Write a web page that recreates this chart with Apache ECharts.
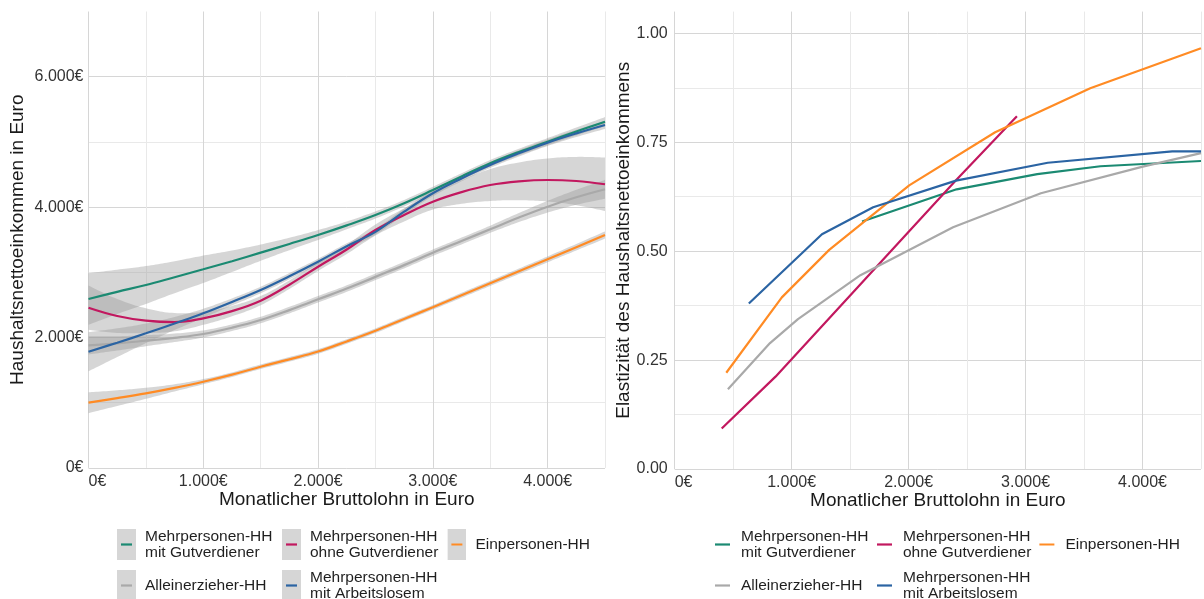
<!DOCTYPE html>
<html><head><meta charset="utf-8">
<script src="https://cdn.jsdelivr.net/npm/echarts@6/dist/echarts.min.js"></script>
<style>html,body{margin:0;padding:0;background:#fff}#c{width:1204px;height:599px}</style>
</head><body><div id="c"></div>
<script>
// ---------- data ----------
const groupNames = [
  'Mehrpersonen-HH\nmit Gutverdiener',
  'Mehrpersonen-HH\nohne Gutverdiener',
  'Einpersonen-HH',
  'Alleinerzieher-HH',
  'Mehrpersonen-HH\nmit Arbeitslosem'
];
const groupColors = ['#1b8a72', '#c2185f', '#ff8b24', '#a9a9a9', '#2b64a3'];

// left panel: smoothed household net income (Euro) by gross wage
const incomeX = [0,250,500,750,1000,1250,1500,1750,2000,2250,2500,2750,3000,3250,3500,3750,4000,4250,4500];
const netGutverdiener   = [2590,2700,2805,2925,3046,3170,3301,3435,3572,3720,3879,4060,4262,4470,4672,4845,5003,5160,5310];
const netOhneGutverd    = [2457,2330,2258,2235,2294,2405,2565,2810,3086,3350,3649,3880,4083,4230,4339,4395,4416,4400,4350];
const netEinpersonen    = [1000,1070,1144,1228,1322,1430,1552,1665,1785,1940,2104,2285,2463,2647,2831,3015,3199,3385,3572];
const netAlleinerzieher = [1880,1910,1951,1995,2054,2150,2268,2420,2586,2750,2930,3110,3300,3480,3660,3840,4006,4150,4273];
const netArbeitslosem   = [1782,1920,2064,2215,2371,2545,2729,2940,3163,3400,3620,3930,4212,4440,4646,4825,4988,5130,5259];

// confidence band half widths (Euro)
const ciGutverdiener   = [395,340,290,245,210,165,125,95,75,60,55,50,50,50,50,50,55,60,70];
const ciOhneGutverd    = [340,260,190,140,100,80,70,65,65,70,85,100,120,180,245,290,330,370,410];
const ciEinpersonen    = [160,120,85,55,40,35,35,35,35,35,35,35,35,38,40,42,45,50,55];
const ciAlleinerzieher = [140,110,85,65,55,50,50,50,50,50,50,50,50,52,55,70,90,115,145];
const ciArbeitslosem   = [300,220,150,100,70,55,50,48,45,45,45,45,45,45,45,48,50,55,60];

// right panel: elasticity of household net income, [gross wage, elasticity]
const elGutverdiener   = [[1602,0.568],[2410,0.642],[3100,0.677],[3640,0.695],[4500,0.707]];
const elOhneGutverd    = [[402,0.093],[862,0.212],[2405,0.663],[2926,0.810]];
const elEinpersonen    = [[441,0.221],[916,0.394],[1321,0.503],[2005,0.651],[2740,0.773],[3553,0.874],[4500,0.966]];
const elAlleinerzieher = [[455,0.183],[815,0.289],[1054,0.344],[1588,0.445],[2380,0.555],[3131,0.633],[4002,0.694],[4500,0.725]];
const elArbeitslosem   = [[634,0.380],[1259,0.539],[1697,0.601],[2405,0.662],[3190,0.703],[4254,0.729],[4500,0.729]];

// ---------- helpers ----------
const FONT = 'Liberation Sans, Arial, Helvetica, sans-serif';
const SMOOTH = 0.4;
const netSeries = [netGutverdiener, netOhneGutverd, netEinpersonen, netAlleinerzieher, netArbeitslosem];
const ciSeries  = [ciGutverdiener, ciOhneGutverd, ciEinpersonen, ciAlleinerzieher, ciArbeitslosem];
const elSeries  = [elGutverdiener, elOhneGutverd, elEinpersonen, elAlleinerzieher, elArbeitslosem];

function euro(v) {
  if (v === 0) return '0€';
  return Math.round(v / 1000) + '.000€';
}
function svgIcon(color, filled) {
  const svg = "<svg xmlns='http://www.w3.org/2000/svg' width='19' height='31' viewBox='0 0 19 31'>" +
    (filled ? "<rect x='0' y='0' width='19' height='31' fill='#d6d6d6'/>" : "") +
    "<line x1='" + (filled ? 4 : 2) + "' y1='15.5' x2='" + (filled ? 15 : 17) + "' y2='15.5' stroke='" + color + "' stroke-width='2.2'/></svg>";
  return 'image://data:image/svg+xml;charset=utf-8,' + encodeURIComponent(svg);
}
const MAJOR = '#d6d6d6', MINOR = '#e9e9e9';

// pixel-space bezier sampling of a polyline (same style of smoothing as the lines)
function smoothPixels(p) {
  const out = [];
  const n = p.length;
  for (let i = 0; i < n - 1; i++) {
    const p0 = p[Math.max(i - 1, 0)], p1 = p[i], p2 = p[i + 1], p3 = p[Math.min(i + 2, n - 1)];
    const c1 = [p1[0] + (p2[0] - p0[0]) * SMOOTH * 0.5, p1[1] + (p2[1] - p0[1]) * SMOOTH * 0.5];
    const c2 = [p2[0] - (p3[0] - p1[0]) * SMOOTH * 0.5, p2[1] - (p3[1] - p1[1]) * SMOOTH * 0.5];
    const steps = 12;
    for (let s = 0; s < steps; s++) {
      const t = s / steps, u = 1 - t;
      out.push([
        u*u*u*p1[0] + 3*u*u*t*c1[0] + 3*u*t*t*c2[0] + t*t*t*p2[0],
        u*u*u*p1[1] + 3*u*u*t*c1[1] + 3*u*t*t*c2[1] + t*t*t*p2[1]
      ]);
    }
  }
  out.push(p[n - 1]);
  return out;
}
function bandRenderItem(params, api) {
  if (params.dataIndexInside !== 0) return null;
  const n = params.dataInsideLength;
  const up = [], lo = [];
  for (let i = 0; i < n; i++) {
    const x = api.value(0, i);
    lo.push(api.coord([x, api.value(1, i)]));
    up.push(api.coord([x, api.value(2, i)]));
  }
  const pts = smoothPixels(up).concat(smoothPixels(lo).reverse());
  return { type: 'polygon', shape: { points: pts }, style: { fill: 'rgba(153,153,153,0.4)' }, silent: true };
}

function xAxisCfg(gridIndex) {
  return {
    type: 'value', gridIndex, min: 0, max: 4500, interval: 500,
    name: 'Monatlicher Bruttolohn in Euro', nameLocation: 'middle', nameGap: 22,
    nameMoveOverlap: false,
    nameTextStyle: { fontFamily: FONT, fontSize: 19, color: '#1a1a1a' },
    axisLine: { show: false }, axisTick: { show: false },
    axisLabel: {
      fontFamily: FONT, fontSize: 16, color: '#333333', margin: 6,
      alignMinLabel: 'left', showMaxLabel: true, hideOverlap: false,
      formatter: v => (v % 1000 === 0 ? euro(v) : '')
    },
    splitLine: { show: true, lineStyle: { color: [MAJOR, MINOR], width: 1 } }
  };
}

const series = [];
// confidence bands
netSeries.forEach((vals, g) => {
  const ci = ciSeries[g];
  series.push({
    type: 'custom', name: 'ci-' + g, xAxisIndex: 0, yAxisIndex: 0, z: 1, silent: true, clip: true,
    renderItem: bandRenderItem,
    encode: { x: 0, y: [1, 2] },
    data: incomeX.map((x, i) => [x, vals[i] - ci[i], vals[i] + ci[i]])
  });
});
// smoothed lines (left)
netSeries.forEach((vals, g) => {
  series.push({
    type: 'line', name: groupNames[g], xAxisIndex: 0, yAxisIndex: 0,
    smooth: SMOOTH, symbol: 'none', z: 3,
    lineStyle: { color: groupColors[g], width: 2.2 },
    itemStyle: { color: groupColors[g] },
    data: incomeX.map((x, i) => [x, vals[i]])
  });
});
// elasticity lines (right)
elSeries.forEach((pts, g) => {
  series.push({
    type: 'line', name: groupNames[g], xAxisIndex: 1, yAxisIndex: 1,
    symbol: 'none', z: 3,
    lineStyle: { color: groupColors[g], width: 2.2 },
    itemStyle: { color: groupColors[g] },
    data: pts
  });
});

function legendCfg(left, top, idxs, filled, gap) {
  return {
    left, top, orient: 'horizontal', padding: 0, itemGap: gap,
    itemWidth: 19, itemHeight: 31, selectedMode: false,
    textStyle: { fontFamily: FONT, fontSize: 15.5, color: '#1f1f1f', lineHeight: 16.5,
                 width: 128, overflow: 'none', padding: [0, 0, 0, 4] },
    data: idxs.map(i => ({ name: groupNames[i], icon: svgIcon(groupColors[i], filled) }))
  };
}

const option = {
  backgroundColor: '#ffffff',
  animation: false,
  grid: [
    { left: 88.5, top: 11.5, width: 516.5, height: 456.4, containLabel: false },
    { left: 674.7, top: 11.6, width: 533.7, height: 457.4, containLabel: false }
  ],
  xAxis: [xAxisCfg(0), xAxisCfg(1)],
  yAxis: [
    {
      type: 'value', gridIndex: 0, min: 0, max: 7000, interval: 1000,
      name: 'Haushaltsnettoeinkommen in Euro', nameLocation: 'middle', nameGap: 61, nameRotate: 90,
      nameMoveOverlap: false,
      nameTextStyle: { fontFamily: FONT, fontSize: 19, color: '#1a1a1a' },
      axisLine: { show: false }, axisTick: { show: false },
      axisLabel: { fontFamily: FONT, fontSize: 16, color: '#333333', margin: 5,
                   formatter: v => (v % 2000 === 0 ? euro(v) : '') },
      splitLine: { show: true, showMaxLine: false, lineStyle: { color: [MAJOR, MINOR], width: 1 } }
    },
    {
      type: 'value', gridIndex: 1, min: 0, max: 1.05, interval: 0.125,
      name: 'Elastizität des Haushaltsnettoeinkommens', nameLocation: 'middle', nameGap: 41, nameRotate: 90,
      nameMoveOverlap: false,
      nameTextStyle: { fontFamily: FONT, fontSize: 19, color: '#1a1a1a' },
      axisLine: { show: false }, axisTick: { show: false },
      axisLabel: { fontFamily: FONT, fontSize: 16, color: '#333333', margin: 7, showMaxLabel: false,
                   formatter: v => (Math.abs(v * 4 - Math.round(v * 4)) < 1e-6 ? v.toFixed(2) : '') },
      splitLine: { show: true, showMaxLine: false, lineStyle: { color: [MAJOR, MINOR], width: 1 } }
    }
  ],
  legend: [
    legendCfg(117, 528, [0, 1, 2], true, 9),
    legendCfg(117, 569, [3, 4], true, 9),
    legendCfg(713, 528, [0, 1, 2], false, 6),
    legendCfg(713, 569, [3, 4], false, 6)
  ],
  series
};

const chart = echarts.init(document.getElementById('c'), null, { renderer: 'canvas' });
chart.setOption(option);
</script>
</body></html>
